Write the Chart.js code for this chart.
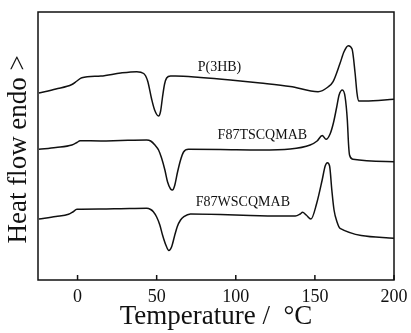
<!DOCTYPE html>
<html>
<head>
<meta charset="utf-8">
<script src="https://cdn.jsdelivr.net/npm/chart.js@4"></script>
<style>
  html, body { margin: 0; padding: 0; background: #fff; }
  #wrap { width: 411px; height: 333px; }
</style>
</head>
<body>
<div id="wrap"><canvas id="dsc"></canvas></div>
<script>
// DSC traces, x = temperature (°C), y = heat flow (arbitrary, endo up)
const seriesNames = ['P(3HB)', 'F87TSCQMAB', 'F87WSCQMAB'];
const xTicks = [0, 50, 100, 150, 200];

const p3hbT = [-24.4, -13.7, -3.6, -0.4, 2.7, 14.7, 27.3, 37.4, 41.8, 44.3, 46.8, 48.7, 51.2, 52.5, 53.7, 55.0, 56.3, 58.8, 61.9, 77.7, 96.6, 115.5, 134.4, 152.0, 158.3, 161.5, 165.9, 168.4, 171.1, 173.5, 175.4, 176.6, 177.6, 181.7, 200];
const p3hbQ = [187, 191, 195.5, 199, 202.3, 204, 207, 208.3, 206.5, 199, 181, 170, 164, 169, 183, 196, 202, 204, 204, 202.5, 200, 197, 193.5, 188.3, 193, 198.3, 216.7, 228.3, 234.3, 231, 207, 187, 179, 179, 180.7];

const tscT = [-24.4, -13.7, -3.6, -0.4, 1.6, 14.7, 27.3, 43.7, 46.2, 48.9, 51.2, 53.1, 55.2, 56.9, 58.8, 60.0, 61.3, 63.2, 65.1, 67.0, 70.1, 90.3, 115.5, 134.4, 147.0, 151.4, 154.6, 157.1, 159.6, 161.7, 163.8, 165.3, 167.4, 169.1, 170.5, 171.3, 171.9, 174.1, 200];
const tscQ = [130.7, 132.5, 135, 137.5, 139.3, 139, 139.5, 140, 139, 135, 130, 122, 110, 98, 91, 90, 94, 108, 120, 128, 130.7, 130.5, 130, 131, 135, 139, 144.5, 140.7, 146, 157, 173, 185, 190, 183, 160, 135, 125, 120.7, 118.3];

const wscT = [-24.4, -13.7, -5.7, -3.0, -0.4, 14.7, 27.3, 43.7, 46.2, 47.9, 50.0, 52.0, 53.7, 55.8, 57.7, 59.4, 61.3, 63.0, 65.1, 67.2, 71.4, 90.3, 109.2, 128.1, 137.6, 140.7, 142.2, 144.5, 147.5, 151.2, 154.6, 156.5, 157.9, 159.3, 160.7, 162.1, 164.0, 165.9, 200];
const wscQ = [61, 63.5, 65.7, 68, 70.7, 71, 71.3, 71.7, 70.5, 68.3, 63, 55, 45, 35, 29.5, 33, 44, 53.3, 60, 63.3, 66, 65.5, 64.5, 64, 64, 66, 67.7, 65, 61, 77, 100, 114, 117.3, 114, 90, 70, 58, 51.7, 41.7];

// where each curve name sits (temperature, heat flow)
const nameAt = [[89.7, 213], [116.8, 145], [104.5, 78]];

const pts = (xs, ys) => xs.map((v, i) => ({ x: v, y: ys[i] }));
const serif = '"Liberation Serif", "Times New Roman", serif';

const frame = {
  id: 'frame',
  afterDraw(chart) {
    const { ctx, chartArea: a, scales: { x, y } } = chart;
    ctx.save();
    ctx.strokeStyle = '#111';
    ctx.lineWidth = 1.5;
    ctx.strokeRect(a.left, a.top, a.right - a.left, a.bottom - a.top);
    ctx.beginPath();
    xTicks.forEach(v => {
      const px = x.getPixelForValue(v);
      ctx.moveTo(px, a.bottom);
      ctx.lineTo(px, a.bottom - 5);
    });
    ctx.stroke();
    ctx.fillStyle = '#111';
    ctx.font = '14px ' + serif;
    ctx.textAlign = 'center';
    ctx.textBaseline = 'middle';
    seriesNames.forEach((n, i) => {
      ctx.fillText(n, x.getPixelForValue(nameAt[i][0]), y.getPixelForValue(nameAt[i][1]));
    });
    ctx.restore();
  }
};

new Chart(document.getElementById('dsc'), {
  type: 'scatter',
  data: {
    datasets: [
      { label: seriesNames[0], data: pts(p3hbT, p3hbQ) },
      { label: seriesNames[1], data: pts(tscT, tscQ) },
      { label: seriesNames[2], data: pts(wscT, wscQ) }
    ].map(d => Object.assign(d, {
      showLine: true,
      borderColor: '#111',
      borderWidth: 1.5,
      pointRadius: 0,
      cubicInterpolationMode: 'monotone'
    }))
  },
  options: {
    responsive: true,
    maintainAspectRatio: false,
    animation: false,
    layout: { padding: { top: 12, right: 17, left: 0, bottom: 0 } },
    plugins: { legend: { display: false }, tooltip: { enabled: false } },
    scales: {
      x: {
        type: 'linear',
        min: -25,
        max: 200,
        afterBuildTicks: s => { s.ticks = xTicks.map(v => ({ value: v })); },
        afterFit: s => { s.height = 53; },
        grid: { display: false },
        border: { display: false },
        ticks: { color: '#111', padding: -2, maxRotation: 0, font: { family: serif, size: 18 } },
        title: {
          display: true,
          text: 'Temperature /  °C',
          color: '#111',
          padding: 0,
          font: { family: serif, size: 27 }
        }
      },
      y: {
        min: 0,
        max: 268,
        afterFit: s => { s.width = 38; },
        grid: { display: false },
        border: { display: false },
        ticks: { display: false },
        title: {
          display: true,
          text: 'Heat flow endo > ',
          color: '#111',
          padding: { top: 3, bottom: 0 },
          font: { family: serif, size: 27 }
        }
      }
    }
  },
  plugins: [frame]
});
</script>
</body>
</html>
